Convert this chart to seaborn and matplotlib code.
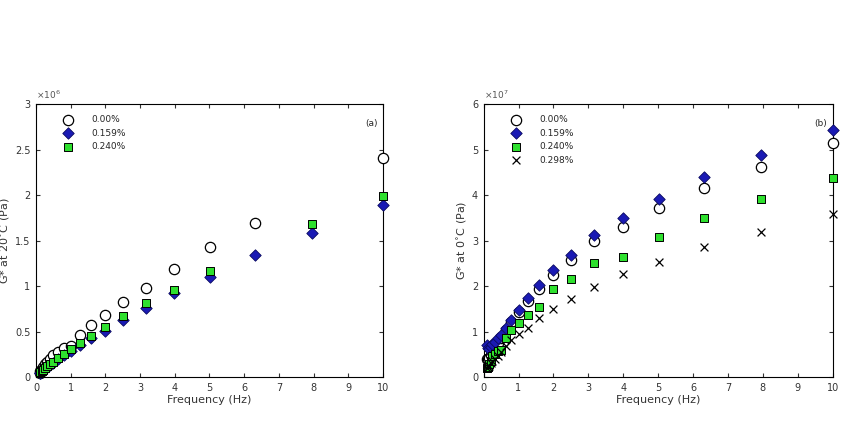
import numpy as np
import pandas as pd
import matplotlib
matplotlib.use("Agg")
import matplotlib.pyplot as plt
import seaborn as sns

# frequencies (Hz), log spaced sweep
freq = [0.1, 0.126, 0.158, 0.2, 0.251, 0.316, 0.398, 0.5, 0.631, 0.794,
        1.0, 1.259, 1.585, 1.995, 2.512, 3.162, 3.981, 5.012, 6.31, 7.943, 10.0]

# panel (a): G* at 20 C, units of 1e6 Pa
a_000 = [0.05, 0.07, 0.09, 0.11, 0.14, 0.17, 0.20, 0.24, 0.28, 0.32,
         0.34, 0.46, 0.57, 0.68, 0.83, 0.98, 1.19, 1.43, 1.69, np.nan, 2.41]
a_159 = [0.04, 0.05, 0.06, 0.075, 0.09, 0.11, 0.13, 0.16, 0.20, 0.24,
         0.29, 0.35, 0.43, 0.51, 0.63, 0.76, 0.92, 1.10, 1.34, 1.58, 1.89]
a_240 = [0.05, 0.06, 0.07, 0.08, 0.10, 0.12, 0.14, 0.17, 0.21, 0.25,
         0.31, 0.37, 0.45, 0.55, 0.67, 0.81, 0.96, 1.17, np.nan, 1.68, 1.99]

# panel (b): G* at 0 C, units of 1e7 Pa
b_000 = [0.40, 0.40, 0.43, 0.48, 0.55, 0.64, 0.74, 0.87, 1.03, 1.22,
         1.44, 1.68, 1.93, 2.25, 2.58, 2.99, 3.29, 3.71, 4.15, 4.62, 5.14]
b_159 = [0.70, 0.64, 0.62, 0.66, 0.72, 0.78, 0.85, 0.93, 1.07, 1.26,
         1.48, 1.75, 2.03, 2.36, 2.68, 3.12, 3.49, 3.91, 4.39, 4.88, 5.44]
b_240 = [0.20, 0.22, 0.28, 0.35, 0.46, 0.50, 0.58, 0.60, 0.86, 1.04,
         1.20, 1.37, 1.55, 1.93, 2.15, 2.50, 2.63, 3.09, 3.50, 3.91, 4.37]
b_298 = [0.20, 0.22, 0.25, 0.30, 0.35, 0.40, 0.46, 0.55, 0.68, 0.82,
         0.94, 1.09, 1.31, 1.50, 1.72, 1.99, 2.27, 2.54, 2.87, 3.20, 3.58]

labels = ["0.00%", "0.159%", "0.240%", "0.298%"]

sns.set_style("white")
plt.rcParams['font.family'] = ['DejaVu Sans']

fig = plt.figure(figsize=(8.44, 4.32), dpi=100)
ax1 = fig.add_axes([0.0427, 0.127, 0.411, 0.632])
ax2 = fig.add_axes([0.573, 0.127, 0.4135, 0.632])


def draw(ax, series, ymax, expo, ylabel, tag):
    styles = [
        dict(marker="o", s=55, facecolor="white", edgecolor="black", linewidth=0.9),
        dict(marker="D", s=34, color="#1a1ab4", edgecolor="#0a0a60", linewidth=0.6),
        dict(marker="s", s=34, color="#2ee02e", edgecolor="black", linewidth=0.7),
        dict(marker="x", s=32, color="black", linewidth=0.9),
    ]
    for vals, lab, st in zip(series, labels, styles):
        df = pd.DataFrame({"f": freq, "g": vals}).dropna()
        sns.scatterplot(data=df, x="f", y="g", ax=ax, label=lab, zorder=3,
                        clip_on=False, **st)
    ax.set_xlim(0, 10)
    ax.set_ylim(0, ymax)
    ax.set_xticks(range(0, 11))
    ax.set_yticks(np.arange(0, ymax + 0.01, ymax / 6))
    ax.yaxis.set_major_formatter(matplotlib.ticker.FormatStrFormatter('%g'))
    ax.tick_params(direction="in", length=3, labelsize=7, colors="#333333",
                   top=True, right=True, bottom=True, left=True, pad=4)
    for sp in ax.spines.values():
        sp.set_color("black")
        sp.set_linewidth(0.8)
    ax.set_xlabel("Frequency (Hz)", fontsize=8, color="#333333", labelpad=2)
    ax.set_ylabel(ylabel, fontsize=8, color="#333333", labelpad=2)
    ax.text(0.0, 1.01, r"$\times 10^{%d}$" % expo, transform=ax.transAxes,
            fontsize=6.5, color="#555555", va="bottom")
    ax.text(0.985, 0.93, tag, transform=ax.transAxes, fontsize=6.5,
            ha="right", va="center")
    ax.legend(loc="upper left", bbox_to_anchor=(0.05, 0.98), frameon=False,
              fontsize=6.5, handletextpad=1.6, labelspacing=0.5,
              borderaxespad=0.2)


draw(ax1, [a_000, a_159, a_240], 3, 6, "G* at 20$^{\\circ}$C (Pa)", "(a)")
draw(ax2, [b_000, b_159, b_240, b_298], 6, 7, "G* at 0$^{\\circ}$C (Pa)", "(b)")

fig.savefig("out.png", dpi=100)
